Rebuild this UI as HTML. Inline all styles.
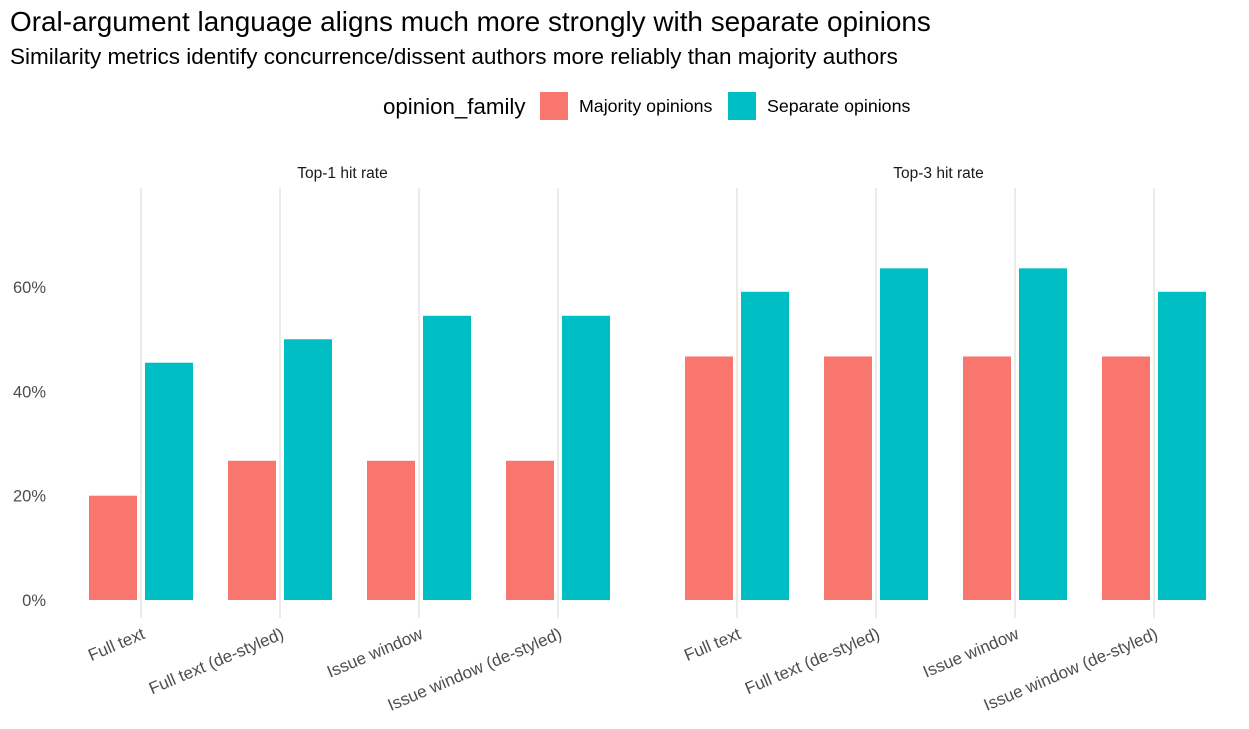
<!DOCTYPE html>
<html><head><meta charset="utf-8"><style>
body{margin:0;background:#fff;width:1249px;height:724px;overflow:hidden;font-family:"Liberation Sans",sans-serif}
</style></head><body>
<svg id="chart" width="1249" height="724" xmlns="http://www.w3.org/2000/svg" font-family="Liberation Sans, sans-serif">
<text x="10" y="31" font-size="27.9" fill="#000">Oral-argument language aligns much more strongly with separate opinions</text>
<text x="10" y="64" font-size="22.5" fill="#000">Similarity metrics identify concurrence/dissent authors more reliably than majority authors</text>
<g>
<text x="383" y="114" font-size="22.3" fill="#000">opinion_family</text>
<rect x="540" y="92" width="28" height="28" fill="#F8766D"/>
<text x="579" y="112" font-size="17.8" fill="#000">Majority opinions</text>
<rect x="728" y="92" width="28" height="28" fill="#00BFC4"/>
<text x="767" y="112" font-size="17.8" fill="#000">Separate opinions</text>
</g>
<g id="plot"></g>
</svg>
<script>
const panels = ["Top-1 hit rate", "Top-3 hit rate"];
const categories = ["Full text", "Full text (de-styled)", "Issue window", "Issue window (de-styled)"];
const majorityTop1 = [20.0, 26.7, 26.7, 26.7];
const separateTop1 = [45.5, 50.0, 54.5, 54.5];
const majorityTop3 = [46.7, 46.7, 46.7, 46.7];
const separateTop3 = [59.1, 63.6, 63.6, 59.1];
const yTicks = [0, 20, 40, 60];
const yTickLabels = ["0%", "20%", "40%", "60%"];

const NS = "http://www.w3.org/2000/svg";
const g = document.getElementById("plot");
function y(v){ return 600 - v * 5.215; }
function x(panel, i){ return (panel === 0 ? 141 : 737) + i * 139; }
function mk(tag, attrs){ const e = document.createElementNS(NS, tag); for (const k in attrs) e.setAttribute(k, attrs[k]); g.appendChild(e); return e; }

yTicks.forEach((t, i) => {
  const e = mk("text", {x: 46, y: y(t) + 6, "font-size": 16.5, fill: "#4d4d4d", "text-anchor": "end"});
  e.textContent = yTickLabels[i];
  
  
});

const series = [[majorityTop1, separateTop1], [majorityTop3, separateTop3]];
panels.forEach((p, pi) => {
  const st = mk("text", {x: (x(pi,0)+x(pi,3))/2 - 7, y: 178, "font-size": 15.5, fill: "#1a1a1a", "text-anchor": "middle"});
  st.textContent = p;
  
  
  categories.forEach((c, i) => {
    const cx = x(pi, i);
    const gl = mk("line", {x1: cx, x2: cx, y1: 188, y2: 618, stroke: "#ebebeb", "stroke-width": 2});
    
    
    const m = series[pi][0][i], s = series[pi][1][i];
    const b1 = mk("rect", {x: cx - 52, y: y(m), width: 48, height: y(0) - y(m), fill: "#F8766D"});
    
    
    const b2 = mk("rect", {x: cx + 4, y: y(s), width: 48, height: y(0) - y(s), fill: "#00BFC4"});
    
    
    const lab = mk("text", {x: cx + 5, y: 638, "font-size": 17, fill: "#4d4d4d", "text-anchor": "end", transform: `rotate(-23 ${cx + 5} 638)`});
    lab.textContent = c;
    
    
  });
});
</script>
</body></html>
